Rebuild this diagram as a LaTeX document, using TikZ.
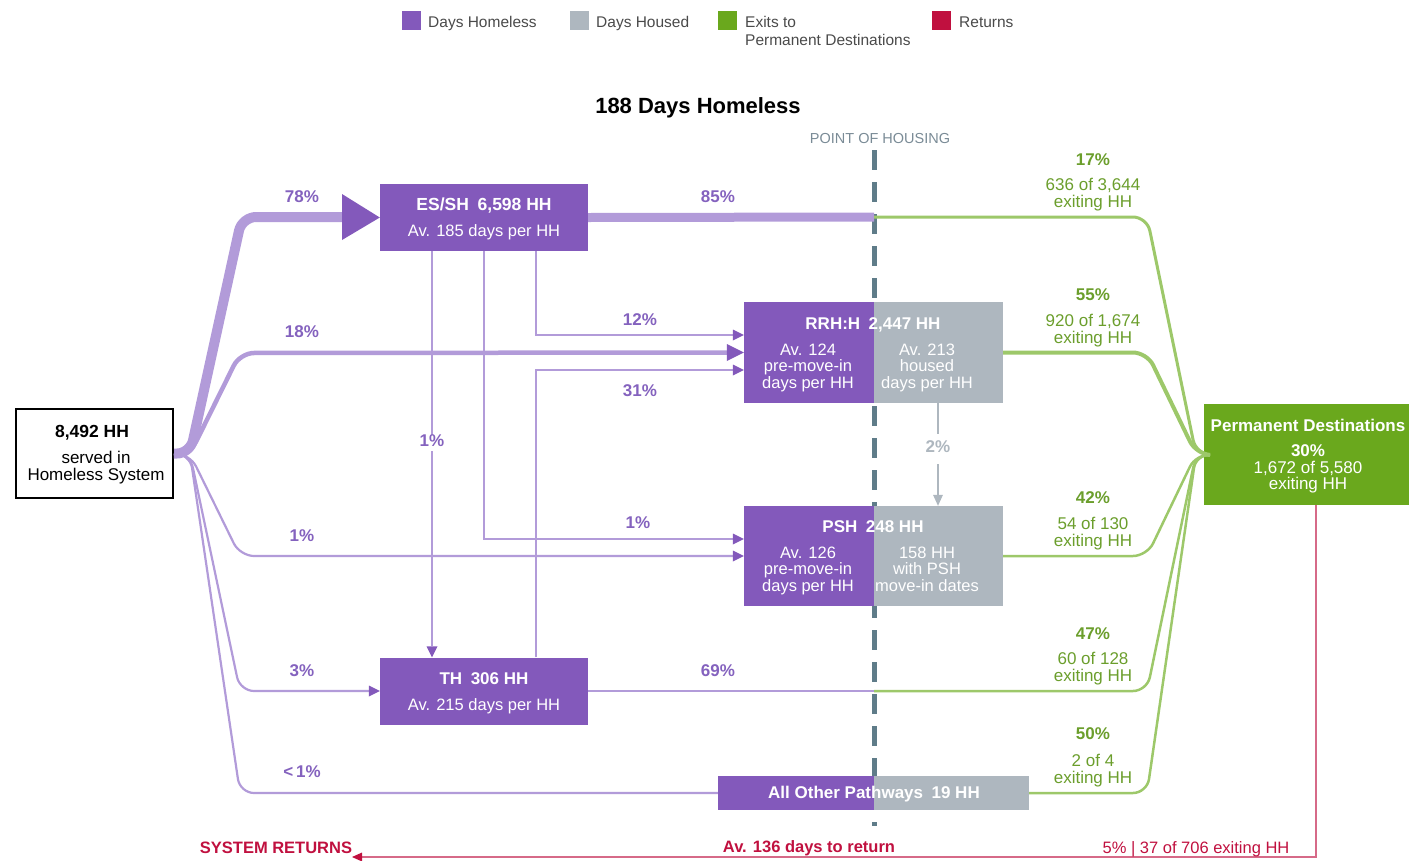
\documentclass[tikz,border=0pt]{standalone}
\usepackage{fontspec}
\setmainfont{Liberation Sans}
\usetikzlibrary{arrows.meta}
\definecolor{boxpur}{HTML}{8359BB}
\definecolor{linepur}{HTML}{B29BD9}
\definecolor{txtpur}{HTML}{8462BE}
\definecolor{boxgray}{HTML}{AEB7BF}
\definecolor{boxgreen}{HTML}{6AA81D}
\definecolor{linegreen}{HTML}{9DC86A}
\definecolor{txtgreen}{HTML}{6B9E2C}
\definecolor{txtred}{HTML}{C0103F}
\definecolor{linered}{HTML}{D66A88}
\definecolor{dashcol}{HTML}{5F7C89}
\definecolor{phcol}{HTML}{7A8B96}
\definecolor{legtxt}{HTML}{4A4A4A}
\newcommand\myfs[2]{\fontsize{#1}{#2}\selectfont}
\begin{document}
\begin{tikzpicture}[x=1pt,y=-1pt,
  t/.style={inner sep=0pt,text height=0.72em,text depth=0pt,yshift=-3pt},
  pbox/.style={fill=boxpur,draw=none,inner sep=0pt},
  gbox/.style={fill=boxgray,draw=none,inner sep=0pt},
  wb/.style={t,text=white,font=\bfseries\myfs{17}{20}},
  wr/.style={t,text=white,font=\myfs{16.5}{20}},
  pct/.style={t,text=txtpur,font=\bfseries\myfs{17}{20}},
  gpb/.style={t,text=txtgreen,font=\bfseries\myfs{17}{20}},
  gpr/.style={t,text=txtgreen,font=\myfs{17}{20}},
  leg/.style={t,anchor=west,text=legtxt,font=\myfs{15.5}{18}},
  flow/.style={draw=linepur,line width=2.2pt},
  fan/.style={draw=linepur,rounded corners=14pt},
  gflow/.style={draw=linegreen,line width=2.5pt,rounded corners=14pt},
  tipS/.style={-{Triangle[length=11pt,width=11pt,line width=0pt,color=boxpur]}},
  tipM/.style={-{Triangle[length=17pt,width=17pt,line width=0pt,color=boxpur]}}
]
\useasboundingbox (0,0) rectangle (1409,860);

% legend
\fill[boxpur] (402,11) rectangle (421,30);
\node[leg] (l1) at (428,21) {Days Homeless};
\fill[boxgray] (570,11) rectangle (589,30);
\node[leg] (l2) at (596,21) {Days Housed};
\fill[boxgreen] (718,11) rectangle (737,30);
\node[leg] (l3) at (745,21) {Exits to};
\node[leg] (l3b) at (745,39) {Permanent Destinations};
\fill[txtred] (932,11) rectangle (951,30);
\node[leg] (l4) at (959,21) {Returns};

% title
\node[t,font=\bfseries\myfs{22}{26}] (title) at (698,107) {188 Days Homeless};
\node[t,text=phcol,font=\myfs{14.5}{17}] (ph) at (880,137) {POINT OF HOUSING};

% point of housing dashed line
\coordinate (dtop) at (874,150);
\coordinate (dbot) at (874,826);
\draw[dashcol,line width=5pt,dash pattern=on 20pt off 12pt] (dtop) -- (dbot);

% boxes
\node[draw=black,line width=2pt,fill=white,minimum width=157pt,minimum height=89pt,inner sep=0pt] (src) at (94.5,453.5) {};
\node[pbox,minimum width=208pt,minimum height=67pt] (essh) at (484,217.5) {};
\node[pbox,minimum width=130pt,minimum height=101pt] (rrhL) at (809,352.5) {};
\node[gbox,minimum width=129pt,minimum height=101pt] (rrhR) at (938.5,352.5) {};
\node[pbox,minimum width=130pt,minimum height=100pt] (pshL) at (809,556) {};
\node[gbox,minimum width=129pt,minimum height=100pt] (pshR) at (938.5,556) {};
\node[pbox,minimum width=208pt,minimum height=67pt] (th) at (484,691) {};
\node[pbox,minimum width=156pt,minimum height=34pt] (aopL) at (796,793) {};
\node[gbox,minimum width=155pt,minimum height=34pt] (aopR) at (951.5,793) {};
\node[fill=boxgreen,inner sep=0pt,minimum width=205pt,minimum height=101pt] (pd) at (1306.5,454.5) {};

% flows from source
\coordinate (fs) at (190,454);
\draw[fan,line width=10pt] (src.east) -- (fs) -- (242,217) -- (342,217);
\fill[boxpur] (essh.west) -- (342,194) -- (342,240) -- cycle;
\draw[fan,line width=4.5pt,tipM] (src.east) -- (fs) -- (240,353) -- (rrhL.west);
\draw[fan,line width=2.2pt,tipS] (src.east) -- (fs) -- (240,556) -- (pshL.west);
\draw[fan,line width=2.2pt,tipS] (src.east) -- (fs) -- (240,691) -- (th.west);
\draw[fan,line width=2.2pt] (src.east) -- (fs) -- (240,793) -- (aopL.west);

% flows between programs
\draw[flow,line width=9pt] (essh.east) -- (874,217);
\draw[flow,tipS] (essh.south -| 536,0) |- (rrhL.west |- 0,335);
\draw[flow,tipS] (th.north -| 536,0) |- (rrhL.west |- 0,370);
\draw[flow,tipS] (essh.south -| 432,0) -- (th.north -| 432,0);
\draw[flow,tipS] (essh.south) |- (pshL.west |- 0,539);
\draw[flow] (th.east) -- (874,691);
\draw[draw=boxgray,line width=2.2pt,-{Triangle[length=11pt,width=10pt,line width=0pt,color=boxgray]}] (rrhR.south -| 938,0) -- (pshR.north -| 938,0);

% exits to permanent destinations
\coordinate (conv) at (1196,454);
\draw[gflow,line width=3pt] (874,217) -- (1147,217) -- (conv) -- (pd.west);
\draw[gflow,line width=4pt] (rrhR.east) -- (1147,352.5) -- (conv) -- (pd.west);
\draw[gflow] (pshR.east) -- (1147,556) -- (conv) -- (pd.west);
\draw[gflow] (874,691) -- (1147,691) -- (conv) -- (pd.west);
\draw[gflow] (aopR.east) -- (1147,793) -- (conv) -- (pd.west);

% returns
\coordinate (retEnd) at (352,857);
\draw[draw=linered,line width=2.5pt,-{Triangle[length=10pt,width=9pt,line width=0pt,color=txtred]}] (pd.south -| 1316,0) |- (retEnd);

% source text
\node[t,font=\bfseries\myfs{17.5}{20}] (s1) at (92,431) {8,492 HH};
\node[t,font=\myfs{17}{20}] (s2) at (96,457) {served in};
\node[t,font=\myfs{17}{20}] (s3) at (96,474) {Homeless System};

% box texts
\node[wb,font=\bfseries\myfs{17.5}{20}] (e1) at (484,204) {ES/SH\enspace 6,598 HH};
\node[wr] (e2) at (484,230) {Av. 185 days per HH};
\node[wb] (r0) at (873,323) {RRH:H\enspace 2,447 HH};
\node[wr] (r1) at (808,349) {Av. 124};
\node[wr] (r2) at (808,365) {pre-move-in};
\node[wr] (r3) at (808,382) {days per HH};
\node[wr] (r4) at (927,349) {Av. 213};
\node[wr] (r5) at (927,365) {housed};
\node[wr] (r6) at (927,382) {days per HH};
\node[wb] (p0) at (873,526) {PSH\enspace 248 HH};
\node[wr] (p1) at (808,552) {Av. 126};
\node[wr] (p2) at (808,568) {pre-move-in};
\node[wr] (p3) at (808,585) {days per HH};
\node[wr] (p4) at (927,552) {158 HH};
\node[wr] (p5) at (927,568) {with PSH};
\node[wr] (p6) at (927,585) {move-in dates};
\node[wb] (t1) at (484,678) {TH\enspace 306 HH};
\node[wr] (t2) at (484,704) {Av. 215 days per HH};
\node[wb] (a1) at (874,792) {All Other Pathways\enspace 19 HH};
\node[wb] (d1) at (1308,425) {Permanent Destinations};
\node[wb] (d2) at (1308,450) {30\%};
\node[wr,font=\myfs{17}{20}] (d3) at (1308,467) {1,672 of 5,580};
\node[wr,font=\myfs{17}{20}] (d4) at (1308,483) {exiting HH};

% percentages
\node[pct] (q78) at (302,196) {78\%};
\node[pct] (q85) at (718,196) {85\%};
\node[pct] (q18) at (302,331) {18\%};
\node[pct] (q12) at (640,319) {12\%};
\node[pct] (q31) at (640,390) {31\%};
\node[pct,fill=white,inner xsep=1pt,inner ysep=4pt] (q1a) at (432,440) {1\%};
\node[pct] (q1b) at (302,535) {1\%};
\node[pct] (q1c) at (638,522) {1\%};
\node[pct] (q3) at (302,670) {3\%};
\node[pct] (q69) at (718,670) {69\%};
\node[pct] (q0) at (302,771) {<\,1\%};
\node[pct,text=boxgray,fill=white,inner xsep=2pt,inner ysep=11pt] (q2) at (938,446) {2\%};

% green labels
\node[gpb] (g1a) at (1093,159) {17\%};
\node[gpr] (g1b) at (1093,184) {636 of 3,644};
\node[gpr] (g1c) at (1093,201) {exiting HH};
\node[gpb] (g2a) at (1093,294) {55\%};
\node[gpr] (g2b) at (1093,320) {920 of 1,674};
\node[gpr] (g2c) at (1093,337) {exiting HH};
\node[gpb] (g3a) at (1093,497) {42\%};
\node[gpr] (g3b) at (1093,523) {54 of 130};
\node[gpr] (g3c) at (1093,540) {exiting HH};
\node[gpb] (g4a) at (1093,633) {47\%};
\node[gpr] (g4b) at (1093,658) {60 of 128};
\node[gpr] (g4c) at (1093,675) {exiting HH};
\node[gpb] (g5a) at (1093,733) {50\%};
\node[gpr] (g5b) at (1093,760) {2 of 4};
\node[gpr] (g5c) at (1093,777) {exiting HH};

% red labels
\node[t,text=txtred,font=\bfseries\myfs{16.5}{20}] (sr) at (276,847) {SYSTEM RETURNS};
\node[t,text=txtred,font=\bfseries\myfs{16.5}{20}] (av) at (809,846) {Av. 136 days to return};
\node[t,text=txtred,font=\myfs{16.5}{20}] (rp) at (1196,847) {5\% | 37 of 706 exiting HH};
\end{tikzpicture}
\end{document}
